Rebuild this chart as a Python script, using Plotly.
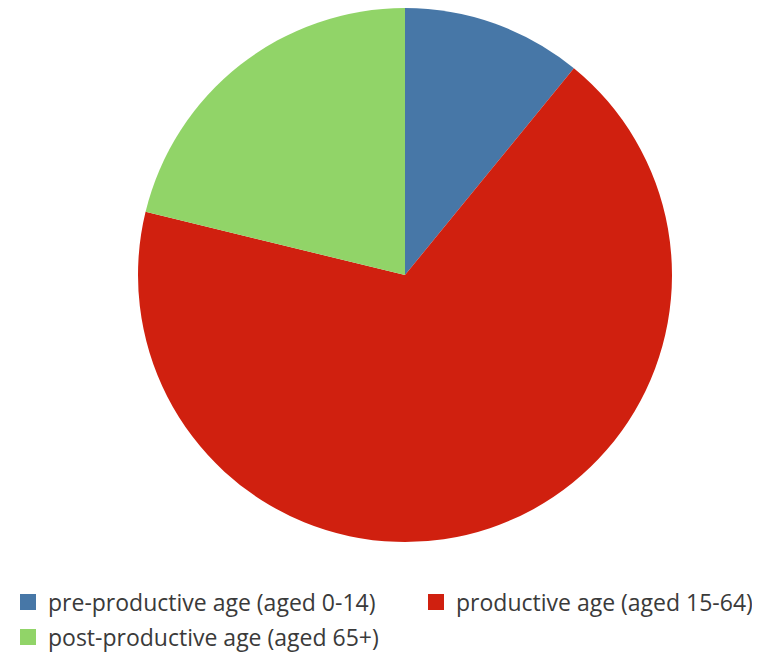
import plotly.graph_objects as go

labels = ["pre-productive age (aged 0-14)", "productive age (aged 15-64)", "post-productive age (aged 65+)"]
values = [10.9, 67.9, 21.2]
colors = ["#4777A7", "#D0200F", "#91D468"]

W, H = 752, 646
legend_font = dict(family="Open Sans", size=23, color="#3a3a3a")

fig = go.Figure()
fig.add_trace(go.Pie(
    labels=labels,
    values=values,
    marker=dict(colors=colors, line=dict(width=0)),
    sort=False,
    direction="clockwise",
    rotation=0,
    textinfo="none",
    hoverinfo="label+percent",
    showlegend=False,
))

# legend entries (one legend per entry so they sit in the reference's grid)
legend_names = ["legend", "legend2", "legend3"]
legend_pos = [(-3, 594), (408, 594), (-3, 629)]  # item origin x, row centre y (figure px)
for lab, col, lg in zip(labels, colors, legend_names):
    fig.add_trace(go.Scatter(
        x=[None], y=[None], mode="markers", name=lab,
        marker=dict(symbol="square", size=16, color=col),
        legend=lg, showlegend=True, hoverinfo="skip",
    ))

layout_legends = {}
for lg, (px, py) in zip(legend_names, legend_pos):
    layout_legends[lg] = dict(
        orientation="h",
        x=px / W, xanchor="left", xref="container",
        y=1 - py / H, yanchor="middle", yref="container",
        font=legend_font, bgcolor="rgba(0,0,0,0)",
        itemsizing="trace",
    )

fig.update_layout(
    width=W, height=H,
    margin=dict(l=130, r=88, t=0, b=112),
    paper_bgcolor="white", plot_bgcolor="white",
    font=dict(family="Open Sans", size=16, color="#333333"),
    xaxis=dict(visible=False), yaxis=dict(visible=False),
    **layout_legends,
)

fig.write_html("out.html")
